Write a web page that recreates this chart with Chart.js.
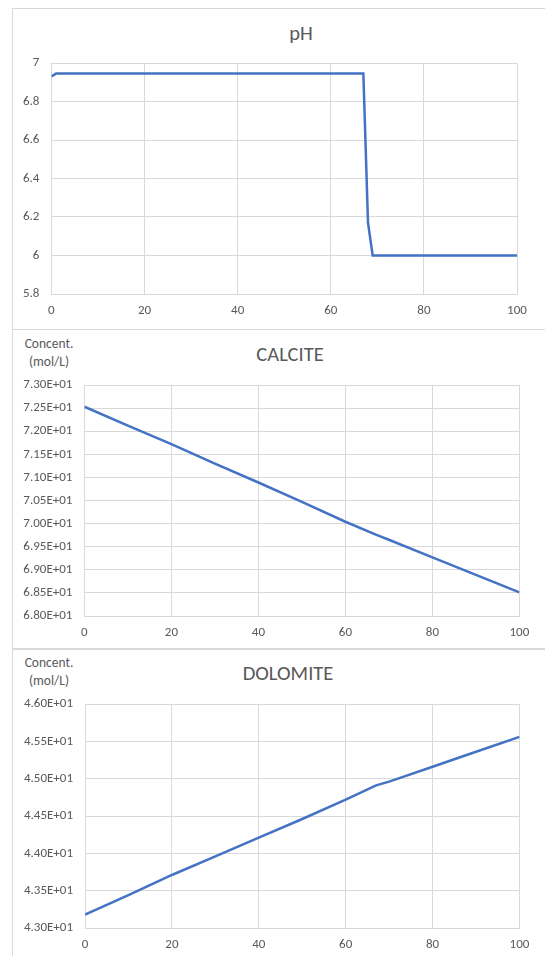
<!DOCTYPE html>
<html>
<head>
<meta charset="utf-8">
<script src="https://cdn.jsdelivr.net/npm/chart.js@4.4.1/dist/chart.umd.min.js"></script>
<style>
  body { margin: 0; background: #fff; overflow: hidden; font-family: Carlito, Calibri, Lato, sans-serif; color: #595959; }
  .panel { position: absolute; left: 12px; width: 540px; border: 1px solid #d9d9d9; background: #fff; }
  .panel canvas { position: absolute; left: 0; top: 0; }
  .title { position: absolute; font-size: 20.5px; transform: translate(-50%, -50%); white-space: nowrap; }
  .unit { position: absolute; font-size: 13.5px; line-height: 18px; text-align: center; transform: translateX(-50%); white-space: nowrap; }
</style>
</head>
<body>
<div class="panel" style="top:8px;height:320px">
  <div class="title" style="left:288px;top:24px">pH</div>
  <canvas id="ph" width="532" height="320"></canvas>
</div>
<div class="panel" style="top:329px;height:318px">
  <div class="unit" style="left:36px;top:5px">Concent.<br>(mol/L)</div>
  <div class="title" style="left:277px;top:24px">CALCITE</div>
  <canvas id="calcite" width="532" height="318"></canvas>
</div>
<div class="panel" style="top:649px;height:320px">
  <div class="unit" style="left:36px;top:4px">Concent.<br>(mol/L)</div>
  <div class="title" style="left:275px;top:23px">DOLOMITE</div>
  <canvas id="dolomite" width="532" height="310"></canvas>
</div>
<script>
// values
const phX = [0, 1, 67, 68, 69, 100];
const phY = [6.93, 6.945, 6.945, 6.17, 6.0, 6.0];

const mineralX = [0, 10, 20, 30, 40, 50, 60, 67, 70, 80, 90, 100];
const calciteY = [72.53, 72.12, 71.72, 71.30, 70.89, 70.47, 70.04, 69.76, 69.65, 69.27, 68.89, 68.51];
const dolomiteY = [43.18, 43.44, 43.71, 43.96, 44.21, 44.46, 44.72, 44.91, 44.96, 45.16, 45.36, 45.56];

const xTicks = [0, 20, 40, 60, 80, 100];

const FONT = 'Carlito, Calibri, Lato, sans-serif';
const TEXT = '#595959';
const GRID = '#d9d9d9';
const LINE = '#4472C4';

const sci = v => {
  const e = Math.floor(Math.log10(Math.abs(v)));
  const m = v / Math.pow(10, e);
  return m.toFixed(2) + 'E' + (e < 0 ? '-' : '+') + String(Math.abs(e)).padStart(2, '0');
};

function makeChart(id, xs, ys, y, area) {
  new Chart(document.getElementById(id), {
    type: 'line',
    data: {
      datasets: [{
        data: xs.map((x, i) => ({ x, y: ys[i] })),
        borderColor: LINE,
        borderWidth: 2.5,
        pointRadius: 0,
        tension: 0,
      }],
    },
    options: {
      responsive: false,
      animation: false,
      events: [],
      layout: { padding: { top: area.top, right: area.right, bottom: area.bottom, left: 0 } },
      plugins: { legend: { display: false }, tooltip: { enabled: false } },
      scales: {
        x: {
          type: 'linear', min: 0, max: 100,
          afterBuildTicks: s => { s.ticks = xTicks.map(v => ({ value: v })); },
          afterFit: s => { s.height = 30; },
          grid: { color: GRID, drawTicks: false },
          border: { color: GRID },
          ticks: { color: TEXT, padding: 9, font: { family: FONT, size: 13 }, maxRotation: 0 },
        },
        y: {
          min: y.min, max: y.max,
          afterBuildTicks: s => { s.ticks = y.ticks.map(v => ({ value: v })); },
          afterFit: s => { s.width = area.left; },
          grid: { color: GRID, drawTicks: false },
          border: { color: GRID },
          ticks: { color: TEXT, padding: 12, font: { family: FONT, size: 13 }, callback: y.fmt },
        },
      },
    },
  });
}

makeChart('ph', phX, phY,
  { min: 5.8, max: 7, ticks: [5.8, 6, 6.2, 6.4, 6.6, 6.8, 7], fmt: v => String(parseFloat(v.toFixed(1))) },
  { left: 38.4, right: 28, top: 54, bottom: 5 });

makeChart('calcite', mineralX, calciteY,
  { min: 68, max: 73, ticks: [68, 68.5, 69, 69.5, 70, 70.5, 71, 71.5, 72, 72.5, 73], fmt: sci },
  { left: 71.4, right: 25.6, top: 55, bottom: 2 });

makeChart('dolomite', mineralX, dolomiteY,
  { min: 43, max: 46, ticks: [43, 43.5, 44, 44.5, 45, 45.5, 46], fmt: sci },
  { left: 72, right: 25.5, top: 54, bottom: 2 });
</script>
</body>
</html>
